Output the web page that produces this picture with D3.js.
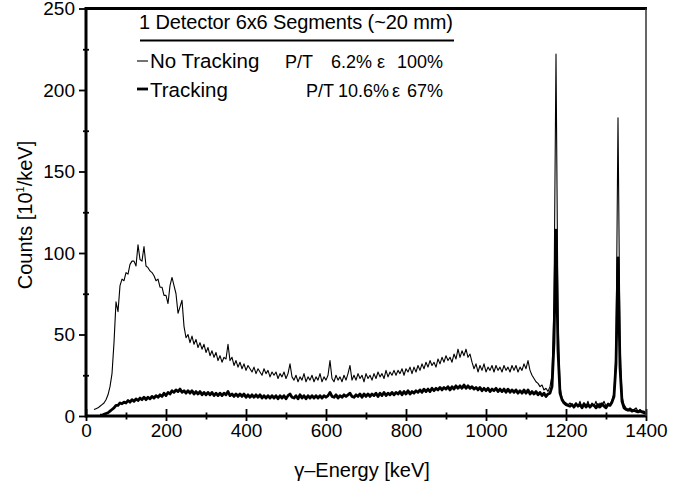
<!DOCTYPE html>
<html>
<head>
<meta charset="utf-8">
<script src="https://cdn.jsdelivr.net/npm/d3@7"></script>
<style>
body{margin:0;background:#fff;}
text{font-family:"Liberation Sans",Arial,Helvetica,sans-serif;fill:#000;}
</style>
</head>
<body>
<svg width="689" height="487"></svg>
<script>
// spectrum channels: first channel energy and bin width (keV)
var E0 = 20, BIN = 5;

// counts per channel [10^1/keV], no tracking (thin line)
var noTracking = [
  4, 4.5, 5, 6, 7, 8, 10, 13, 18, 26,
  45, 70, 64, 80, 84, 83, 88, 87, 93, 95,
  95, 92, 105, 96, 95, 104, 92, 91, 89, 88,
  86, 83, 84, 79, 79, 74, 74, 69, 80, 85,
  80, 75, 63, 67, 71, 55, 48, 50, 45, 49,
  44, 47, 42, 45, 41, 44, 39, 42, 37, 40,
  36, 39, 34, 37, 33, 36, 35, 44, 34, 36,
  31, 34, 30, 33, 29, 32, 28, 31, 29, 27,
  30, 26, 29, 27, 25, 29, 26, 28, 24, 27,
  25, 27, 23, 26, 24, 27, 23, 26, 32, 24,
  22, 25, 21, 24, 22, 26, 21, 24, 22, 25,
  21, 24, 22, 26, 21, 24, 22, 25, 34, 23,
  21, 25, 22, 24, 21, 25, 22, 26, 31, 22,
  25, 22, 26, 23, 25, 21, 26, 23, 25, 22,
  26, 23, 27, 24, 26, 23, 28, 24, 27, 25,
  28, 25, 28, 26, 29, 25, 29, 27, 30, 26,
  30, 27, 31, 28, 32, 29, 33, 30, 34, 31,
  33, 30, 35, 32, 36, 33, 37, 34, 36, 33,
  38, 35, 41, 36, 40, 37, 41, 36, 38, 33,
  29, 32, 27, 31, 28, 32, 27, 30, 28, 31,
  27, 31, 28, 30, 27, 31, 28, 30, 27, 31,
  28, 31, 27, 30, 28, 32, 29, 34, 28, 25,
  23, 21, 20, 18, 19, 16, 17, 15, 18, 25,
  70, 222, 60, 18, 11, 9, 8, 7, 8, 7,
  5, 8, 6, 9, 5, 8, 6, 9, 5, 8,
  6, 9, 5, 8, 6, 9, 6, 8, 7, 10,
  14, 40, 183, 45, 12, 7, 5, 4, 5, 4,
  4, 5, 3, 4, 3, 3, 2
];

// counts per channel, with tracking (thick line)
var tracking = [
  null, null, null, 0.5, 0.5, 1, 1.5, 2, 3, 4,
  5, 6.5, 6.5, 8, 7.5, 8.5, 8, 9.5, 8.5, 10,
  9, 10.5, 9.5, 11, 10, 11.5, 10, 11.5, 10.5, 12,
  11, 12.5, 11.5, 13, 12, 14, 12.5, 14.5, 13.5, 15.5,
  14.5, 16, 15, 16.5, 14.5, 15.5, 14, 15.5, 14, 15.5,
  13.5, 15, 13.5, 15, 13, 14.5, 13, 14.5, 13, 14.5,
  12.5, 14, 12.5, 14, 12.5, 14, 13, 15, 12.5, 13.5,
  12, 13.5, 12, 13.5, 12, 13.5, 11.5, 13, 11.5, 13,
  11.5, 13, 11.5, 13, 11, 12.5, 11, 12.5, 11, 12.5,
  11, 12.5, 10.5, 12.5, 11, 12.5, 10.5, 12.5, 13.5, 11.5,
  11, 12.5, 10.5, 13, 11, 12.5, 10.5, 12.5, 11, 12.5,
  11, 12.5, 11, 12.5, 11, 12.5, 11.5, 12.5, 14.5, 12,
  11.5, 13, 11, 12.5, 11.5, 13, 12, 13, 14, 12,
  11.5, 13, 12, 13.5, 11.5, 13.5, 12, 13.5, 12, 13.5,
  12.5, 14, 12, 14, 12.5, 14.5, 12.5, 14, 13, 14.5,
  13, 14.5, 13.5, 15, 13, 15, 13.5, 15.5, 13.5, 15,
  14, 15.5, 14.5, 16, 14.5, 16.5, 15, 16.5, 15, 17,
  15.5, 17, 16, 17.5, 16, 17.5, 16.5, 18, 16, 18,
  16.5, 18.5, 17, 18.5, 17, 19, 17, 18.5, 17, 18,
  16.5, 17.5, 16, 17.5, 15.5, 17, 15.5, 17, 15, 16.5,
  15.5, 17, 15, 16.5, 15, 16.5, 14.5, 16.5, 14.5, 16,
  14.5, 16, 14, 15.5, 14, 16, 14, 16, 13.5, 15,
  13.5, 15, 13, 14.5, 12.5, 14, 12, 13.5, 14, 18,
  45, 114, 40, 14, 10, 8, 7, 6.5, 6, 7,
  5.5, 7.5, 6, 7, 5, 7.5, 5.5, 7, 5.5, 7,
  6.5, 5, 7, 5.5, 7.5, 6, 5, 7, 6.5, 8.5,
  12, 32, 97, 30, 9, 5, 4, 3.5, 4, 3,
  3.5, 3, 2.5, 3, 2.5, 2, 1.5
];

var xTicks = [0, 200, 400, 600, 800, 1000, 1200, 1400];
var xMinor = [100, 300, 500, 700, 900, 1100, 1300];
var yTicks = [0, 50, 100, 150, 200, 250];
var yMinor = [25, 75, 125, 175, 225];

var svg = d3.select('svg');
// plot box (top is a window property, so use other names)
var pLeft = 86, pRight = 646, pTop = 8.5, pBottom = 416;

var x = d3.scaleLinear().domain([0, 1400]).range([pLeft, pRight]);
var y = d3.scaleLinear().domain([0, 250]).range([pBottom, pTop]);

// spectra
var line = d3.line()
  .defined(function(d){ return d != null; })
  .x(function(d, i){ return x(E0 + i * BIN); })
  .y(function(d){ return y(d); });

svg.append('path').datum(noTracking).attr('d', line)
  .attr('fill', 'none').attr('stroke', '#000').attr('stroke-width', 1.1)
  .attr('stroke-linejoin', 'round');
svg.append('path').datum(tracking).attr('d', line)
  .attr('fill', 'none').attr('stroke', '#000').attr('stroke-width', 2.8)
  .attr('stroke-linejoin', 'round');

// axes
var fmt = d3.format('d');
var yAxis = d3.axisLeft(y).tickValues(yTicks).tickFormat(fmt).tickSize(7).tickPadding(4).tickSizeOuter(0);
var yAxisMinor = d3.axisLeft(y).tickValues(yMinor).tickSize(6).tickFormat('').tickSizeOuter(0);
var xAxis = d3.axisBottom(x).tickValues(xTicks).tickFormat(fmt).tickSize(12).tickPadding(2).tickSizeOuter(0);
var xAxisMinor = d3.axisBottom(x).tickValues(xMinor).tickSize(7).tickFormat('').tickSizeOuter(0);

var gy = svg.append('g').attr('transform', 'translate(' + pLeft + ',0)').call(yAxis);
var gym = svg.append('g').attr('transform', 'translate(' + (pLeft + 3) + ',0)').call(yAxisMinor);
var gx = svg.append('g').attr('transform', 'translate(0,' + (pBottom - 7) + ')').call(xAxis);
var gxm = svg.append('g').attr('transform', 'translate(0,' + (pBottom - 3.5) + ')').call(xAxisMinor);

[gy, gym, gx, gxm].forEach(function(g){
  g.select('.domain').remove();
  g.selectAll('line').attr('stroke', '#000').attr('stroke-width', 1.8);
  g.selectAll('text').attr('font-size', 19).attr('font-family', '"Liberation Sans",Arial,sans-serif');
});
gx.selectAll('text').attr('dy', '0.71em').attr('y', 15);

// frame
svg.append('line').attr('x1', pLeft).attr('x2', pLeft).attr('y1', pTop - 1.5).attr('y2', pBottom + 1.5)
  .attr('stroke', '#000').attr('stroke-width', 3);
svg.append('line').attr('x1', pLeft).attr('x2', pRight + 1).attr('y1', pBottom).attr('y2', pBottom)
  .attr('stroke', '#000').attr('stroke-width', 3);
svg.append('line').attr('x1', pLeft).attr('x2', pRight + 1).attr('y1', pTop).attr('y2', pTop)
  .attr('stroke', '#000').attr('stroke-width', 3);
svg.append('line').attr('x1', pRight).attr('x2', pRight).attr('y1', pTop).attr('y2', pBottom)
  .attr('stroke', '#333').attr('stroke-width', 1.5);

// axis titles
svg.append('text').attr('x', 362).attr('y', 477)
  .attr('text-anchor', 'middle').attr('font-size', 20).text('γ–Energy [keV]');

var yt = svg.append('text').attr('transform', 'translate(32,215) rotate(-90)')
  .attr('text-anchor', 'middle').attr('font-size', 20);
yt.append('tspan').text('Counts [10');
yt.append('tspan').attr('dy', -8).attr('font-size', 11).text('1');
yt.append('tspan').attr('dy', 8).text('/keV]');

// legend
var lg = svg.append('g').attr('font-size', 18);
lg.append('text').attr('x', 139).attr('y', 29).attr('font-size', 20)
  .attr('textLength', 314).attr('lengthAdjust', 'spacing').text('1 Detector 6x6 Segments (~20 mm)');
lg.append('line').attr('x1', 140).attr('x2', 454).attr('y1', 40.5).attr('y2', 40.5)
  .attr('stroke', '#000').attr('stroke-width', 2);

lg.append('line').attr('x1', 137).attr('x2', 148).attr('y1', 61).attr('y2', 61)
  .attr('stroke', '#000').attr('stroke-width', 1.1);
lg.append('text').attr('x', 150).attr('y', 68).attr('font-size', 20.5).text('No Tracking');
lg.append('text').attr('x', 285).attr('y', 68).text('P/T');
lg.append('text').attr('x', 372).attr('y', 68).attr('text-anchor', 'end').text('6.2%');
lg.append('text').attr('x', 377).attr('y', 68).text('ε');
lg.append('text').attr('x', 443).attr('y', 68).attr('text-anchor', 'end').text('100%');

lg.append('line').attr('x1', 137).attr('x2', 148).attr('y1', 89).attr('y2', 89)
  .attr('stroke', '#000').attr('stroke-width', 2.8);
lg.append('text').attr('x', 150).attr('y', 97).attr('font-size', 20.5).text('Tracking');
lg.append('text').attr('x', 306).attr('y', 97).text('P/T');
lg.append('text').attr('x', 389).attr('y', 97).attr('text-anchor', 'end').text('10.6%');
lg.append('text').attr('x', 392).attr('y', 97).text('ε');
lg.append('text').attr('x', 443).attr('y', 97).attr('text-anchor', 'end').text('67%');
</script>
</body>
</html>
